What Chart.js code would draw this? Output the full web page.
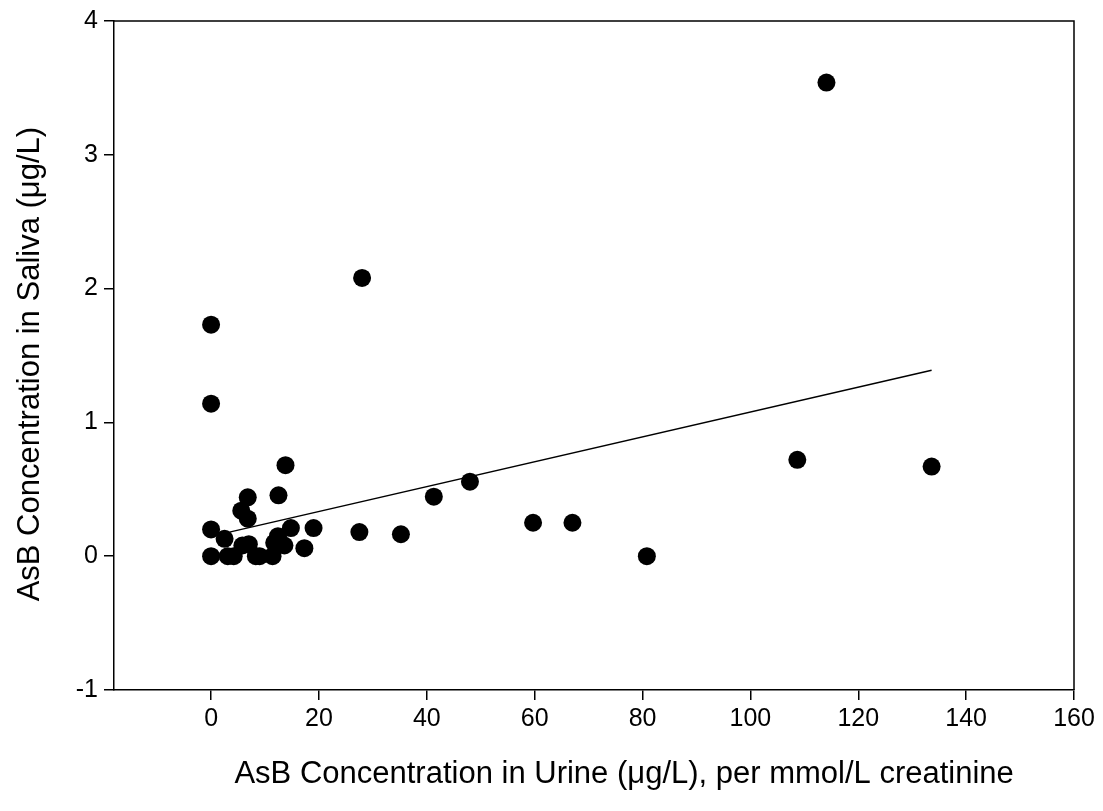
<!DOCTYPE html>
<html>
<head>
<meta charset="utf-8">
<title>AsB Concentration: Saliva vs Urine</title>
<script src="https://cdn.jsdelivr.net/npm/chart.js@4/dist/chart.umd.min.js"></script>
<style>
  html, body { margin: 0; padding: 0; background: #fff; }
  #wrap { width: 1103px; height: 811px; }
</style>
</head>
<body>
<div id="wrap"><canvas id="chart" width="1103" height="811"></canvas></div>
<script>
// Urine AsB (µg/L per mmol/L creatinine) and matching saliva AsB (µg/L)
const urineAsB  = [0, 0, 0, 0, 2.5, 3.1, 4.2, 5.6, 6.8, 6.8, 5.8, 7.0, 8.3, 9.0,
                   11.4, 11.7, 12.5, 12.4, 13.6, 13.8, 14.8, 17.3, 19.0, 27.5, 28.0,
                   35.2, 41.3, 48.0, 59.7, 67.0, 80.8, 108.7, 114.1, 133.6];
const salivaAsB = [1.73, 1.14, 0.20, 0.00, 0.13, 0.00, 0.00, 0.34, 0.44, 0.28, 0.08, 0.09, 0.00, 0.00,
                   0.00, 0.10, 0.455, 0.15, 0.08, 0.68, 0.21, 0.06, 0.21, 0.18, 2.08,
                   0.164, 0.445, 0.557, 0.25, 0.25, 0.00, 0.72, 3.54, 0.67];

// Fitted regression line, from its first to its last point
const fitX = [3.4, 133.6];
const fitY = [0.18, 1.39];

// Axis ticks
const xTicks = [0, 20, 40, 60, 80, 100, 120, 140, 160];
const yTicks = [-1, 0, 1, 2, 3, 4];

const points = urineAsB.map((u, i) => ({ x: u, y: salivaAsB[i] }));
const fitLine = fitX.map((u, i) => ({ x: u, y: fitY[i] }));

const FONT = "'Liberation Sans', Arial, Helvetica, sans-serif";
// padding spaces nudge the centred axis titles slightly off the axis midpoint
const X_TITLE = '       AsB Concentration in Urine (μg/L), per mmol/L creatinine';
const Y_TITLE = 'AsB Concentration in Saliva (μg/L)  ';

// Closes the frame on the top and right sides of the plot area
const framePlugin = {
  id: 'frame',
  afterDraw(chart) {
    const { ctx, chartArea: a } = chart;
    ctx.save();
    ctx.strokeStyle = '#000';
    ctx.lineWidth = 1.5;
    ctx.beginPath();
    ctx.moveTo(a.left, a.top);
    ctx.lineTo(a.right, a.top);
    ctx.lineTo(a.right, a.bottom);
    ctx.stroke();
    ctx.restore();
  }
};

new Chart(document.getElementById('chart'), {
  type: 'scatter',
  data: {
    datasets: [
      {
        type: 'line',
        label: 'fit',
        data: fitLine,
        borderColor: '#000',
        borderWidth: 1.5,
        pointRadius: 0,
        fill: false,
        tension: 0,
        order: 2
      },
      {
        label: 'AsB',
        data: points,
        backgroundColor: '#000',
        borderColor: '#000',
        borderWidth: 0,
        pointRadius: 9,
        pointHoverRadius: 9,
        order: 1
      }
    ]
  },
  options: {
    responsive: false,
    animation: false,
    events: [],
    layout: { padding: { top: 20, right: 29, left: 0, bottom: 0 } },
    plugins: {
      legend: { display: false },
      tooltip: { enabled: false }
    },
    scales: {
      x: {
        type: 'linear',
        position: 'bottom',
        min: -18,
        max: 160,
        afterBuildTicks: s => { s.ticks = xTicks.map(v => ({ value: v })); },
        afterFit: s => { s.height = 121; },
        grid: { display: true, drawOnChartArea: false, drawTicks: true, tickLength: 10, color: '#000', lineWidth: 1.5 },
        border: { display: true, color: '#000', width: 1.5 },
        ticks: { color: '#000', font: { family: FONT, size: 25 }, padding: 4, maxRotation: 0 },
        title: {
          display: true,
          text: X_TITLE,
          color: '#000',
          font: { family: FONT, size: 31 },
          padding: { top: 0, bottom: 18 }
        }
      },
      y: {
        type: 'linear',
        position: 'left',
        min: -1,
        max: 4,
        afterBuildTicks: s => { s.ticks = yTicks.map(v => ({ value: v })); },
        afterFit: s => { s.width = 114; },
        grid: { display: true, drawOnChartArea: false, drawTicks: true, tickLength: 10, color: '#000', lineWidth: 1.5 },
        border: { display: true, color: '#000', width: 1.5 },
        ticks: { color: '#000', font: { family: FONT, size: 25 }, padding: 6 },
        title: {
          display: true,
          text: Y_TITLE,
          color: '#000',
          font: { family: FONT, size: 31 },
          padding: { top: 12, bottom: 0 }
        }
      }
    }
  },
  plugins: [framePlugin]
});
</script>
</body>
</html>
